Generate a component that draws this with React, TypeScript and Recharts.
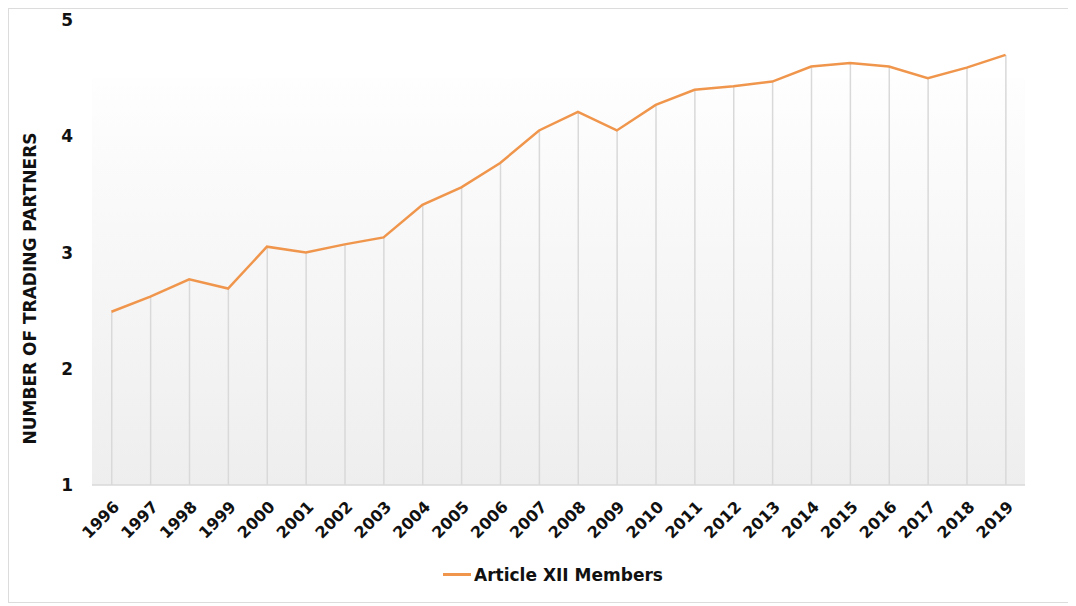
import React from 'react'
import {
  ComposedChart,
  Line,
  Bar,
  XAxis,
  YAxis,
  Legend,
  ReferenceArea,
} from 'recharts'

const years = [
  '1996', '1997', '1998', '1999', '2000', '2001', '2002', '2003', '2004', '2005', '2006', '2007',
  '2008', '2009', '2010', '2011', '2012', '2013', '2014', '2015', '2016', '2017', '2018', '2019',
]
const members = [
  2.49, 2.62, 2.77, 2.69, 3.05, 3.0, 3.07, 3.13, 3.41, 3.56, 3.77, 4.05,
  4.21, 4.05, 4.27, 4.4, 4.43, 4.47, 4.6, 4.63, 4.6, 4.5, 4.59, 4.7,
]
const yTicks = [1, 2, 3, 4, 5]
const seriesName = 'Article XII Members'
const yTitle = 'NUMBER OF TRADING PARTNERS'

const data = years.map((y, i) => ({ year: y, value: members[i] }))

const FONT = '"DejaVu Sans", Verdana, sans-serif'
const ORANGE = '#f0964c'

const XTick = (props: any) => {
  const { x, y, payload } = props
  return (
    <text
      x={x + 5}
      y={y + 11}
      transform={`rotate(-45, ${x + 5}, ${y + 11})`}
      textAnchor="end"
      dominantBaseline="central"
      fontFamily={FONT}
      fontWeight="bold"
      fontSize={16}
      fill="#111"
    >
      {payload.value}
    </text>
  )
}

const YTitle = (props: any) => {
  const { viewBox } = props
  const cx = viewBox.x + 21
  const cy = viewBox.y + viewBox.height / 2 + 36
  return (
    <text
      x={cx}
      y={cy}
      transform={`rotate(-90, ${cx}, ${cy})`}
      textAnchor="middle"
      dominantBaseline="central"
      fontFamily={FONT}
      fontWeight="bold"
      fontSize={17}
      fill="#111"
    >
      {yTitle}
    </text>
  )
}

const LegendBox = () => (
  <div
    style={{
      display: 'flex',
      justifyContent: 'center',
      alignItems: 'center',
      height: 45,
      paddingLeft: 72,
      boxSizing: 'border-box',
      paddingBottom: 10,
    }}
  >
    <span style={{ display: 'inline-block', width: 28, height: 3, background: ORANGE, marginRight: 3 }} />
    <span style={{ fontFamily: FONT, fontWeight: 'bold', fontSize: 17, color: '#111' }}>{seriesName}</span>
  </div>
)

export default function App() {
  return (
    <div
      style={{
        width: 1060,
        height: 593,
        border: '1px solid #dcdcdc',
        background: '#fff',
      }}
    >
      <ComposedChart
        width={1060}
        height={593}
        data={data}
        margin={{ top: 11, right: 44, bottom: 0, left: 0 }}
      >
        <defs>
          <linearGradient id="bgGrad" x1="0" y1="0" x2="0" y2="1">
            <stop offset="0%" stopColor="#fefefe" />
            <stop offset="100%" stopColor="#eeeeee" />
          </linearGradient>
        </defs>
        <XAxis
          dataKey="year"
          interval={0}
          height={72}
          tickLine={false}
          axisLine={{ stroke: '#d9d9d9', strokeWidth: 1.5 }}
          tick={<XTick />}
        />
        <YAxis
          domain={[1, 5]}
          ticks={yTicks}
          width={83}
          axisLine={false}
          tickLine={false}
          tickMargin={13}
          tick={{ fontFamily: FONT, fontWeight: 'bold', fontSize: 17, fill: '#111' }}
          label={<YTitle />}
        />
        <ReferenceArea y1={1} y2={4.5} fill="url(#bgGrad)" fillOpacity={1} stroke="none" ifOverflow="visible" />
        <Bar dataKey="value" barSize={1.5} fill="#d9d9d9" isAnimationActive={false} legendType="none" />
        <Line
          dataKey="value"
          name={seriesName}
          stroke={ORANGE}
          strokeWidth={2.5}
          dot={false}
          activeDot={false}
          type="linear"
          isAnimationActive={false}
        />
        <Legend verticalAlign="bottom" content={<LegendBox />} />
      </ComposedChart>
    </div>
  )
}
